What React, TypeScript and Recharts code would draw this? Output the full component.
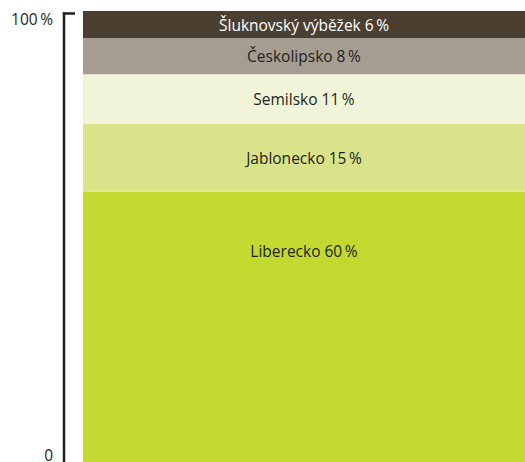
import * as React from "react"
import { Bar, BarChart, LabelList, XAxis, YAxis } from "recharts"

// bottom to top
const regions = ["Liberecko", "Jablonecko", "Semilsko", "Českolipsko", "Šluknovský výběžek"]
const shares = [60, 15, 11, 8, 6]
const yTicks = [0, 100]

const colors = ["#c2d92f", "#d9e48a", "#f0f4d9", "#a59d92", "#4a3f31"]
const textColors = ["#231f20", "#231f20", "#231f20", "#231f20", "#ffffff"]

const row: Record<string, any> = { name: "kraj" }
regions.forEach((r, i) => {
  row[r] = shares[i]
})
const data = [row]

const FONT = "'Open Sans', sans-serif"

function SegmentLabel(props: any) {
  const { x, y, width, height, value, name, color } = props
  const cy = y + Math.min(height / 2, 60)
  return (
    <text
      x={x + width / 2}
      y={cy}
      textAnchor="middle"
      dominantBaseline="central"
      fill={color}
      fontSize={15.5}
      fontFamily={FONT}
    >
      {`${name} ${value}\u2009%`}
    </text>
  )
}

function AxisTick(props: any) {
  const { y, payload } = props
  const top = payload.value === 100
  return (
    <g>
      {top && (
        <>
          <line x1={64} x2={64} y1={y + 1.5} y2={470} stroke="#231f20" strokeWidth={2.5} />
          <line x1={62.75} x2={75} y1={y + 2.5} y2={y + 2.5} stroke="#231f20" strokeWidth={2.5} />
        </>
      )}
      <text
        x={53}
        y={top ? y + 14 : y - 1}
        textAnchor="end"
        fill="#231f20"
        fontSize={15.5}
        fontFamily={FONT}
      >
        {top ? "100\u2009%" : "0"}
      </text>
    </g>
  )
}

export default function App() {
  return (
    <div style={{ position: "absolute", left: 0, top: 0, width: 525, height: 462, overflow: "hidden", background: "#fff" }}>
      <BarChart
        width={543}
        height={462}
        data={data}
        margin={{ top: 11, right: 0, left: 0, bottom: 0 }}
        barCategoryGap={18}
      >
        <XAxis dataKey="name" hide />
        <YAxis
          width={65}
          domain={[0, 100]}
          ticks={yTicks}
          axisLine={false}
          tickLine={false}
          tick={<AxisTick />}
          interval={0}
        />
        {regions.map((r, i) => (
          <Bar key={r} dataKey={r} stackId="a" fill={colors[i]} isAnimationActive={false}>
            <LabelList
              dataKey={r}
              content={(p: any) => <SegmentLabel {...p} name={r} color={textColors[i]} />}
            />
          </Bar>
        ))}
      </BarChart>
    </div>
  )
}
